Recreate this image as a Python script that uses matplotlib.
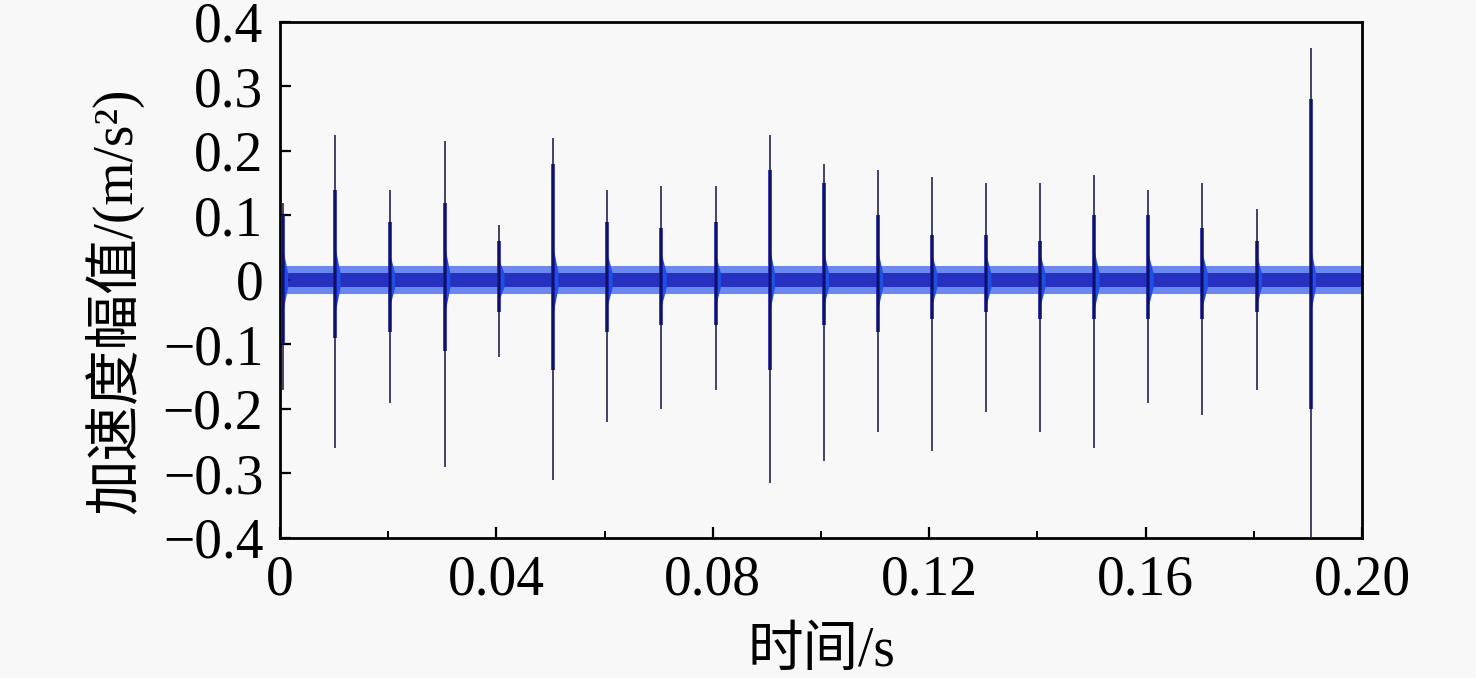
import matplotlib
matplotlib.use("Agg")
import matplotlib.pyplot as plt
from matplotlib.ticker import FixedLocator, FixedFormatter

# ---------------- data ----------------
impulse_t = [0.0005, 0.0102, 0.0203, 0.0305, 0.0405, 0.0505, 0.0605, 0.0705,
             0.0805, 0.0905, 0.1005, 0.1105, 0.1205, 0.1305, 0.1405, 0.1505,
             0.1605, 0.1705, 0.1805, 0.1905]
peak_pos = [0.12, 0.225, 0.14, 0.215, 0.085, 0.22, 0.14, 0.145, 0.145, 0.225,
            0.18, 0.17, 0.16, 0.15, 0.15, 0.163, 0.14, 0.15, 0.11, 0.36]
peak_neg = [-0.17, -0.26, -0.19, -0.29, -0.12, -0.31, -0.22, -0.20, -0.17, -0.315,
            -0.28, -0.235, -0.265, -0.205, -0.235, -0.26, -0.19, -0.21, -0.17, -0.40]
core_pos = [0.10, 0.14, 0.09, 0.12, 0.06, 0.18, 0.09, 0.08, 0.09, 0.17,
            0.15, 0.10, 0.07, 0.07, 0.06, 0.10, 0.10, 0.08, 0.06, 0.28]
core_neg = [-0.10, -0.09, -0.08, -0.11, -0.05, -0.14, -0.08, -0.07, -0.07, -0.14,
            -0.07, -0.08, -0.06, -0.05, -0.06, -0.06, -0.06, -0.06, -0.05, -0.20]
ring_pos = [0.05, 0.05, 0.04, 0.05, 0.03, 0.05, 0.04, 0.04, 0.04, 0.05,
            0.045, 0.045, 0.04, 0.04, 0.04, 0.045, 0.04, 0.04, 0.04, 0.05]
ring_neg = [-0.05, -0.05, -0.04, -0.05, -0.03, -0.05, -0.04, -0.04, -0.04, -0.05,
            -0.04, -0.045, -0.04, -0.04, -0.04, -0.045, -0.04, -0.04, -0.04, -0.05]
ring_dur = 0.0009
noise_outer = 0.022
noise_inner = 0.011
t_span = [0.0, 0.2]

x_ticks = [0, 0.04, 0.08, 0.12, 0.16, 0.20]
x_ticklabels = ["0", "0.04", "0.08", "0.12", "0.16", "0.20"]
x_minor = [0.02, 0.06, 0.10, 0.14, 0.18]
y_ticks = [0.4, 0.3, 0.2, 0.1, 0, -0.1, -0.2, -0.3, -0.4]
y_ticklabels = ["0.4", "0.3", "0.2", "0.1", "0", "\u22120.1", "\u22120.2", "\u22120.3", "\u22120.4"]
x_label = "时间/s"
y_label = "加速度幅值/(m/s²)"

# ---------------- figure ----------------
fam = ["Liberation Serif", "Noto Sans CJK SC"]
plt.rcParams["font.family"] = fam
bg = "#f8f8f8"
fig = plt.figure(figsize=(14.76, 6.78), dpi=100, facecolor=bg)
ax = fig.add_axes([0.1897, 0.2065, 0.7331, 0.7611], facecolor=bg)

# background noise band
ax.fill_between(t_span, [-noise_outer] * 2, [noise_outer] * 2,
                color="#3b63ea", lw=0, alpha=0.75, zorder=1)
ax.fill_between(t_span, [-noise_inner] * 2, [noise_inner] * 2,
                color="#1a22b8", lw=0, alpha=0.85, zorder=2)

for t, rp, rn in zip(impulse_t, ring_pos, ring_neg):
    ax.fill_between([t, t + ring_dur], [rn, -noise_inner], [rp, noise_inner],
                    color="#1f4fe4", lw=0, zorder=3)

ax.vlines(impulse_t, core_neg, core_pos, color="#1616aa", lw=2.6, zorder=4)
ax.vlines(impulse_t, peak_neg, peak_pos, color="#121240", lw=1.1, zorder=5)

ax.set_xlim(0, 0.2)
ax.set_ylim(-0.4, 0.4)

ax.xaxis.set_major_locator(FixedLocator(x_ticks))
ax.xaxis.set_major_formatter(FixedFormatter(x_ticklabels))
ax.xaxis.set_minor_locator(FixedLocator(x_minor))
ax.yaxis.set_major_locator(FixedLocator(y_ticks))
ax.yaxis.set_major_formatter(FixedFormatter(y_ticklabels))

ax.tick_params(axis="both", which="major", direction="in", length=8, width=1.6,
               labelsize=40, colors="black", top=False, right=False)
ax.tick_params(axis="x", which="major", pad=12)
ax.tick_params(axis="y", which="major", pad=12)
ax.tick_params(axis="x", which="minor", direction="in", length=5, width=1.4, top=False)

for sp in ax.spines.values():
    sp.set_linewidth(2.0)
    sp.set_color("black")

ax.set_xlabel(x_label, fontsize=40, family=fam, labelpad=14)
ax.set_ylabel(y_label, fontsize=40, family=fam, labelpad=14)
ax.yaxis.label.set_y(0.46)

fig.savefig("out.png", dpi=100, facecolor=bg)
